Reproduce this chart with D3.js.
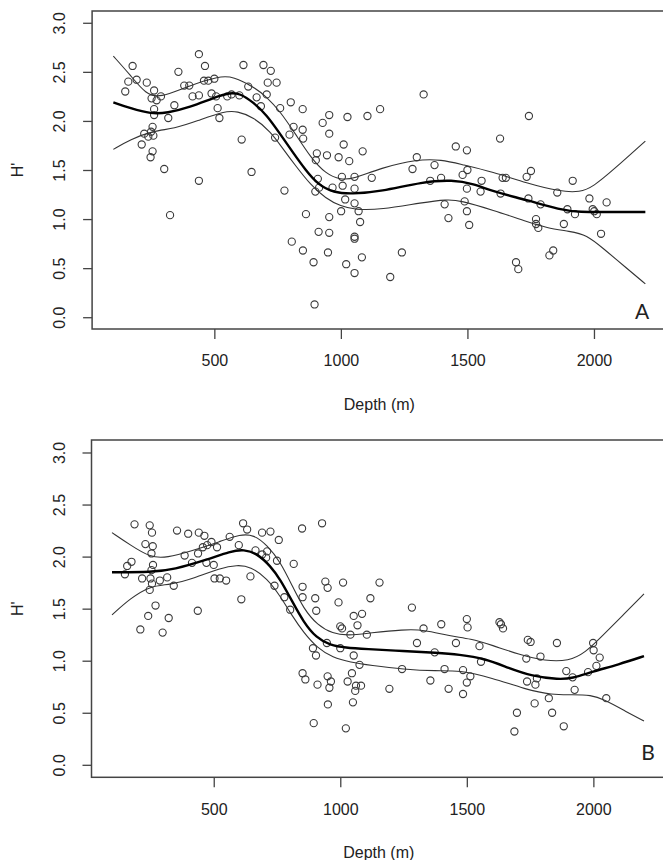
<!DOCTYPE html>
<html><head><meta charset="utf-8">
<script src="https://cdn.jsdelivr.net/npm/d3@7"></script>
<style>
html,body{margin:0;padding:0;background:#fff;}
svg{display:block;}
text{font-family:"Liberation Sans",Arial,sans-serif;fill:#222;}
</style></head>
<body>
<svg id="chart" width="663" height="860"></svg>
<script>
// ---------- DATA ----------
const yTicks = [0, 0.5, 1.0, 1.5, 2.0, 2.5, 3.0];
const xTicks = [500, 1000, 1500, 2000];
const xLabel = "Depth (m)";
const yLabel = "H'";
const panelLabels = ["A", "B"];

// Panel A observations [depth, H']
const pointsA = [
 [177,2.56],[160,2.40],[148,2.30],[193,2.42],[233,2.39],[262,2.31],[252,2.23],[272,2.21],[289,2.25],[262,2.12],
 [262,2.06],[358,2.50],[342,2.16],[318,2.03],[381,2.36],[401,2.36],[439,2.68],[463,2.56],[459,2.41],[476,2.41],
 [500,2.43],[414,2.25],[439,2.26],[489,2.28],[507,2.25],[551,2.25],[568,2.27],[599,2.26],[513,2.13],[520,2.03],
 [615,2.57],[694,2.57],[723,2.51],[711,2.39],[746,2.39],[634,2.35],[667,2.24],[707,2.27],[684,2.15],[740,1.83],
 [608,1.81],[647,1.48],[439,1.39],[302,1.51],[325,1.04],[256,1.94],[250,1.89],[239,1.84],[223,1.87],[259,1.85],
 [213,1.76],[256,1.69],[248,1.63],
 [760,2.13],[802,2.19],[849,2.12],[797,1.86],[813,1.94],[849,1.91],[851,1.82],[928,1.98],[954,2.06],[954,1.87],
 [1026,2.04],[1105,2.05],[1155,2.12],[1327,2.27],[1011,1.76],[905,1.67],[945,1.65],[991,1.63],[1033,1.59],[1086,1.69],
 [901,1.60],[1004,1.43],[1054,1.43],[909,1.41],[1007,1.34],[1054,1.31],[1122,1.42],[967,1.32],[914,1.32],[899,1.28],
 [777,1.29],[1017,1.20],[1054,1.16],[1001,1.08],[1070,1.08],[1076,0.97],[862,1.05],[954,1.02],[912,0.87],[954,0.86],
 [1054,0.82],[1054,0.80],[806,0.77],[850,0.68],[949,0.66],[1083,0.61],[892,0.56],[1021,0.54],[1054,0.45],[1195,0.41],
 [1241,0.66],[896,0.13],[1283,1.51],[1300,1.63],[1370,1.55],[1353,1.39],[1396,1.42],[1454,1.74],[1498,1.70],[1481,1.45],
 [1500,1.50],[1498,1.31],[1410,1.15],[1425,1.01],[1489,1.18],[1498,1.08],[1507,0.94],
 [1743,2.05],[1629,1.82],[1556,1.39],[1552,1.28],[1639,1.42],[1652,1.42],[1631,1.26],[1751,1.49],[1734,1.43],[1741,1.21],
 [1789,1.15],[1855,1.27],[1916,1.39],[1982,1.21],[2050,1.17],[1895,1.10],[1925,1.05],[1995,1.10],[2001,1.08],[2011,1.05],
 [1771,1.00],[1771,0.95],[1780,0.91],[1881,0.95],[2028,0.85],[1839,0.68],[1824,0.63],[1692,0.56],[1701,0.49]
];
// Panel A fitted curve (mean) and confidence bounds [depth, H']
const meanA = [[101,2.19],[167,2.13],[252,2.07],[312,2.08],[404,2.14],[496,2.235],[562,2.29],[601,2.28],[654,2.19],[707,2.06],
 [759,1.87],[810,1.68],[860,1.50],[910,1.35],[972,1.27],[1040,1.255],[1157,1.28],[1324,1.38],[1441,1.40],[1524,1.36],
 [1602,1.28],[1734,1.195],[1866,1.094],[1945,1.07],[2050,1.072],[2203,1.072]];
const upperA = [[101,2.66],[167,2.47],[230,2.27],[285,2.235],[391,2.35],[522,2.46],[575,2.45],[654,2.35],[707,2.245],[759,2.10],
 [820,1.87],[880,1.63],[940,1.46],[1000,1.40],[1050,1.41],[1157,1.52],[1300,1.61],[1400,1.605],[1471,1.56],[1602,1.48],
 [1734,1.365],[1866,1.28],[1945,1.273],[1997,1.33],[2076,1.50],[2203,1.795]];
const lowerA = [[101,1.71],[167,1.81],[259,1.90],[341,1.92],[433,2.00],[539,2.10],[591,2.10],[654,2.04],[723,1.89],[770,1.72],
 [822,1.54],[880,1.35],[940,1.21],[1000,1.13],[1056,1.095],[1157,1.095],[1324,1.17],[1420,1.20],[1471,1.19],[1602,1.09],
 [1734,0.975],[1813,0.91],[1905,0.875],[1971,0.84],[2037,0.70],[2129,0.50],[2203,0.34]];

// Panel B observations [depth, H']
const pointsB = [
 [187,2.31],[247,2.30],[256,2.23],[230,2.12],[259,2.10],[254,2.03],[355,2.25],[399,2.22],[441,2.23],[463,2.20],
 [385,2.01],[438,2.03],[457,2.09],[474,2.11],[491,2.14],[513,2.09],[563,2.19],[599,2.11],[616,2.32],[632,2.26],
 [691,2.23],[724,2.24],[757,2.16],[665,2.06],[691,2.02],[711,2.05],[707,1.99],[175,1.95],[158,1.91],[149,1.83],
 [260,1.92],[254,1.87],[217,1.79],[250,1.79],[287,1.77],[316,1.80],[256,1.74],[247,1.68],[342,1.72],[414,1.94],
 [471,1.94],[500,1.92],[503,1.79],[524,1.79],[549,1.77],[645,1.81],[740,1.72],[609,1.59],[270,1.53],[241,1.43],
 [437,1.48],[322,1.41],[210,1.30],[298,1.27],
 [849,2.27],[928,2.32],[750,1.96],[816,1.93],[779,1.61],[802,1.49],[851,1.71],[851,1.61],[901,1.60],[941,1.76],
 [950,1.70],[1011,1.75],[993,1.56],[905,1.48],[1155,1.75],[1119,1.60],[1053,1.43],[1086,1.45],[1068,1.34],[1000,1.33],
 [1007,1.31],[1040,1.25],[1105,1.25],[1283,1.51],[1329,1.31],[1399,1.35],[1303,1.17],[1373,1.08],[1457,1.17],[1500,1.40],
 [1503,1.32],[892,1.12],[904,1.05],[947,1.17],[1000,1.12],[1053,1.05],[1076,0.96],[1046,0.88],[1029,0.80],[1062,0.76],
 [1082,0.76],[1059,0.71],[851,0.88],[862,0.82],[910,0.77],[950,0.85],[963,0.80],[957,0.74],[1050,0.60],[951,0.58],
 [895,0.40],[1022,0.35],[1194,0.73],[1244,0.92],[1356,0.81],[1412,0.92],[1428,0.73],[1485,0.91],[1500,0.79],[1485,0.68],
 [1550,1.14],[1556,0.99],[1629,1.37],[1635,1.35],[1643,1.31],[1741,1.20],[1752,1.18],[1856,1.17],[1735,1.02],[1791,1.04],
 [1738,0.80],[1777,0.83],[1771,0.77],[1824,0.64],[1768,0.59],[1837,0.50],[1698,0.50],[1688,0.32],[1883,0.37],[1893,0.90],
 [1918,0.84],[1926,0.72],[1979,0.89],[1999,1.17],[2001,1.10],[2025,1.03],[2012,0.95],[2051,0.64],[1514,0.85]
];
const meanB = [[98,1.85],[256,1.85],[342,1.875],[474,1.97],[566,2.05],[619,2.07],[671,2.03],[724,1.91],[763,1.78],[810,1.57],
 [855,1.37],[905,1.22],[960,1.15],[1020,1.125],[1100,1.112],[1250,1.092],[1382,1.076],[1468,1.06],[1573,1.02],[1665,0.93],
 [1758,0.852],[1863,0.82],[1916,0.83],[1995,0.894],[2100,0.964],[2200,1.044]];
const upperB = [[98,2.23],[171,2.11],[250,1.99],[316,1.99],[408,2.05],[526,2.145],[605,2.215],[658,2.21],[711,2.11],[763,1.95],
 [810,1.72],[855,1.50],[910,1.34],[970,1.26],[1030,1.24],[1119,1.267],[1250,1.299],[1329,1.299],[1435,1.235],[1514,1.213],
 [1600,1.149],[1705,1.06],[1810,0.996],[1903,0.996],[1968,1.076],[2034,1.235],[2113,1.427],[2200,1.641]];
const lowerB = [[98,1.44],[171,1.60],[250,1.72],[329,1.73],[421,1.79],[526,1.89],[592,1.92],[645,1.906],[711,1.79],[763,1.62],
 [810,1.43],[855,1.27],[910,1.12],[970,1.03],[1040,0.985],[1120,0.955],[1250,0.916],[1382,0.90],[1468,0.91],[1600,0.836],
 [1731,0.725],[1837,0.67],[1920,0.675],[1990,0.67],[2040,0.63],[2130,0.51],[2200,0.42]];

// ---------- DRAW ----------
const svg = d3.select("#chart");
const xDomain = [17, 2287];
const yDomain = [-0.12, 3.12];

const panels = [
  {label: panelLabels[0], pts: pointsA, mean: meanA, up: upperA, lo: lowerA,
   left: 92.1, right: 666.6, top: 11, bottom: 329, xLabY: 404, letter: [642, 310]},
  {label: panelLabels[1], pts: pointsB, mean: meanB, up: upperB, lo: lowerB,
   left: 91.5, right: 666.0, top: 440, bottom: 777.3, xLabY: 852, letter: [648, 751]}
];

panels.forEach(p => {
  const x = d3.scaleLinear().domain(xDomain).range([p.left, p.right]);
  const y = d3.scaleLinear().domain(yDomain).range([p.bottom, p.top]);
  const g = svg.append("g");

  // box
  g.append("rect").attr("x", p.left).attr("y", p.top)
    .attr("width", p.right - p.left).attr("height", p.bottom - p.top)
    .attr("fill", "none").attr("stroke", "#444").attr("stroke-width", 1.5);

  // y axis
  const ya = g.append("g").attr("transform", `translate(${p.left},0)`)
    .call(d3.axisLeft(y).tickValues(yTicks).tickFormat(d3.format(".1f")).tickSize(9).tickSizeOuter(0));
  ya.select(".domain").remove();
  ya.selectAll(".tick line").attr("stroke", "#444").attr("stroke-width", 1.3);
  ya.selectAll(".tick text")
    .attr("transform", "rotate(-90)").attr("x", 0).attr("y", -27).attr("dy", null)
    .attr("text-anchor", "middle").style("font-size", "16px")
    .style("font-family", '"Liberation Sans", Arial, sans-serif').attr("fill", "#222");

  // x axis
  const xa = g.append("g").attr("transform", `translate(0,${p.bottom})`)
    .call(d3.axisBottom(x).tickValues(xTicks).tickFormat(d3.format("d")).tickSize(10).tickSizeOuter(0));
  xa.select(".domain").remove();
  xa.selectAll(".tick line").attr("stroke", "#444").attr("stroke-width", 1.3);
  xa.selectAll(".tick text").attr("y", 26).attr("dy", "0.71em")
    .style("font-size", "16px").style("font-family", '"Liberation Sans", Arial, sans-serif').attr("fill", "#222");

  // axis titles
  g.append("text").attr("x", (p.left + p.right) / 2).attr("y", p.xLabY)
    .attr("text-anchor", "middle").attr("dominant-baseline", "central")
    .style("font-size", "16px").text(xLabel);
  g.append("text").attr("transform", `translate(23,${(p.top + p.bottom) / 2}) rotate(-90)`)
    .attr("text-anchor", "middle").style("font-size", "16px").text(yLabel);

  // points
  g.append("g").selectAll("circle").data(p.pts).join("circle")
    .attr("cx", d => x(d[0])).attr("cy", d => y(d[1])).attr("r", 3.6)
    .attr("fill", "none").attr("stroke", "#3a3a3a").attr("stroke-width", 1.1);

  // curves
  const line = d3.line().x(d => x(d[0])).y(d => y(d[1])).curve(d3.curveBasis);
  [p.up, p.lo].forEach(c => g.append("path").attr("d", line(c))
    .attr("fill", "none").attr("stroke", "#333").attr("stroke-width", 1.1));
  g.append("path").attr("d", line(p.mean))
    .attr("fill", "none").attr("stroke", "#000").attr("stroke-width", 2.4);

  // panel letter
  g.append("text").attr("x", p.letter[0]).attr("y", p.letter[1])
    .attr("text-anchor", "middle").attr("dominant-baseline", "central")
    .style("font-family", "Lato, 'Open Sans', sans-serif").style("font-size", "21px").text(p.label);
});
</script>
</body></html>
